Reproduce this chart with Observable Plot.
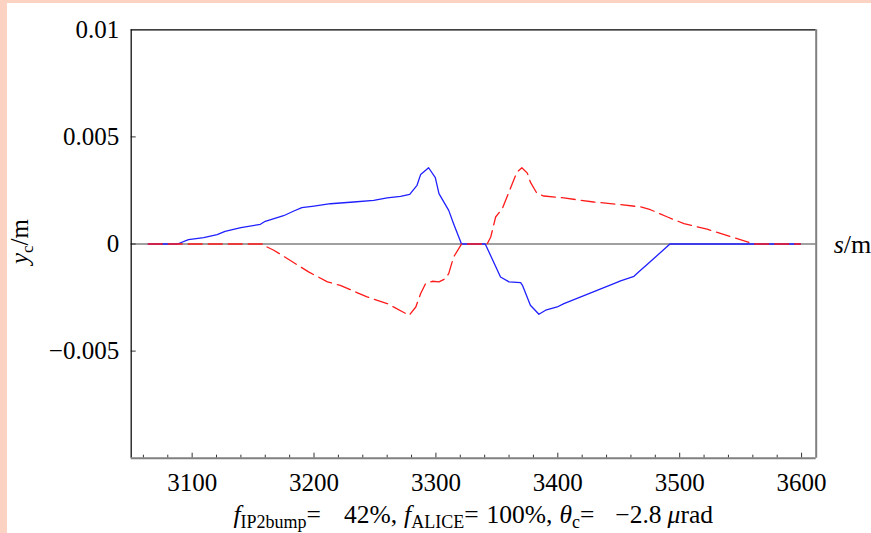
<!DOCTYPE html>
<html><head><meta charset="utf-8">
<script src="https://cdn.jsdelivr.net/npm/d3@7"></script>
<script src="https://cdn.jsdelivr.net/npm/@observablehq/plot@0.6"></script>
<style>
html,body{margin:0;padding:0;width:871px;height:533px;overflow:hidden;background:#fcd3c2;}
#panel{position:absolute;left:7px;top:3px;width:864px;height:530px;background:#fff;overflow:hidden;}
#panel svg{display:block;}
</style></head><body><div id="panel"></div>
<script>
const blueS = [3064,3088,3097,3109.5,3120.5,3127,3140,3156,3160,3175,3183,3190,3200,3213.5,3232.5,3249,3260,3271,3278.5,3284.5,3287.5,3294,3299.5,3302.5,3310.5,3314.5,3321,3340.5,3353,3360,3369.5,3371,3377.5,3384.5,3390,3399.5,3405,3424,3446,3451.5,3462.5,3466.5,3473.5,3492,3599];
const blueY = [0,0,0.0002,0.0003,0.00044,0.00059,0.00076,0.00092,0.00106,0.00132,0.00153,0.0017,0.00177,0.00188,0.00196,0.00204,0.00215,0.00222,0.00232,0.00274,0.00325,0.00356,0.0031,0.00235,0.00157,0.00095,0,0,-0.00154,-0.00177,-0.0018,-0.00193,-0.00286,-0.00328,-0.00309,-0.00294,-0.00278,-0.00235,-0.00185,-0.00172,-0.00151,-0.0013,-0.00095,0,0];
const redS = [3064,3159,3161.5,3167,3189,3195.5,3211,3221.5,3243.5,3260,3278,3283.5,3287.5,3291.5,3297,3302.5,3308,3310.5,3314.5,3321,3342,3345,3349,3354.5,3361,3366.5,3370.5,3375,3377.5,3383,3388.5,3405,3429.5,3451.5,3468,3476,3490,3503.5,3522.5,3561,3599];
const redY = [0,0,-0.00014,-0.00029,-0.00107,-0.0013,-0.00177,-0.00193,-0.00247,-0.00278,-0.00333,-0.00294,-0.00231,-0.00185,-0.00174,-0.00177,-0.00161,-0.00138,-0.00061,0,0,0.00033,0.00126,0.00165,0.00258,0.00336,0.00356,0.00331,0.00289,0.00235,0.00224,0.00215,0.00196,0.00184,0.00173,0.0016,0.00126,0.00095,0.00069,0,0];
const xMajorTicks = [3100,3200,3300,3400,3500,3600];
const xMinorTicks = [3060,3080,3120,3140,3160,3180,3220,3240,3260,3280,3320,3340,3360,3380,3420,3440,3460,3480,3520,3540,3560,3580];
const yLabelTicks = [0.01,0.005,0,-0.005];
const yMarkTicks = [0.005,0,-0.005];
const xDomain = [3050,3612];
const yDomain = [-0.01,0.01];

const blue = blueS.map((s,i)=>({s, y: blueY[i]}));
const red = redS.map((s,i)=>({s, y: redY[i]}));

const SERIF = "'Liberation Serif','Times New Roman',serif";
const W = 864, H = 530;
const mL = 123.7, mR = 55.3, mT = 26.3, mB = 75.3;
const innerW = W - mL - mR, innerH = H - mT - mB;
const fmtY = d => d === 0 ? "0" : (d < 0 ? "\u2212" : "") + Math.abs(d);

const plot = Plot.plot({
  width: W, height: H,
  marginLeft: mL, marginRight: mR, marginTop: mT, marginBottom: mB,
  style: {fontFamily: SERIF, fontSize: "25px", background: "transparent", color: "#000"},
  x: {domain: xDomain},
  y: {domain: yDomain},
  marks: [
    Plot.ruleY([0], {stroke: "#808080", strokeWidth: 1.7}),
    Plot.line(blue, {x: "s", y: "y", stroke: "#1f1fff", strokeWidth: 1.3}),
    Plot.line(red, {x: "s", y: "y", stroke: "#ff1a1a", strokeWidth: 1.3, strokeDasharray: "14,6"}),
    Plot.ruleX(xMajorTicks, {stroke: "#333", strokeWidth: 1, insetTop: innerH - 5}),
    Plot.ruleX(xMinorTicks, {stroke: "#333", strokeWidth: 1, insetTop: innerH - 3}),
    Plot.ruleY(yMarkTicks, {stroke: "#333", strokeWidth: 1, insetRight: innerW - 5}),
    Plot.ruleY([yDomain[1]], {stroke: "#000", strokeWidth: 1.3}),
    Plot.ruleX([xDomain[0]], {stroke: "#111", strokeWidth: 1.3}),
    Plot.ruleX([xDomain[1]], {stroke: "#808080", strokeWidth: 2}),
    Plot.ruleY([yDomain[0]], {stroke: "#808080", strokeWidth: 2}),
    Plot.axisX({ticks: xMajorTicks, tickSize: 0, tickPadding: 15, tickFormat: d => String(d), label: null, fontSize: 25, fontFamily: SERIF}),
    Plot.axisY({ticks: yLabelTicks, tickSize: 0, tickPadding: 12, tickFormat: fmtY, label: null, fontSize: 25, fontFamily: SERIF})
  ]
});
document.getElementById("panel").appendChild(plot);

const svg = d3.select(plot);
const xs = plot.scale("x"), ys = plot.scale("y");
const fx0 = xs.apply(xDomain[0]), fx1 = xs.apply(xDomain[1]);
const y0 = ys.apply(0);

// y axis label
const yl = svg.append("text")
  .attr("transform", `translate(${21},${y0 - 2}) rotate(-90)`)
  .attr("text-anchor", "middle")
  .attr("font-family", SERIF)
  .attr("font-size", 25);
yl.append("tspan").attr("font-style", "italic").text("y");
yl.append("tspan").attr("font-size", 17).attr("dy", 5).text("c");
yl.append("tspan").attr("dy", -5).text("/m");

// x axis label
const xl = svg.append("text")
  .attr("x", fx1 + 18).attr("y", y0 + 9)
  .attr("text-anchor", "start")
  .attr("font-family", SERIF)
  .attr("font-size", 26);
xl.append("tspan").attr("font-style", "italic").text("s");
xl.append("tspan").text("/m");

// caption
const cap = svg.append("text")
  .attr("x", (fx0 + fx1) / 2).attr("y", 520)
  .attr("text-anchor", "middle")
  .attr("font-family", SERIF)
  .attr("font-size", 25.5);
const parts = [
  ["f", {italic: true}],
  ["IP2bump", {sub: true}],
  ["=", {unsub: true}],
  ["42%,", {dx: 23}],
  ["f", {italic: true, dx: 7}],
  ["ALICE", {sub: true}],
  ["=", {unsub: true}],
  ["100%,", {dx: 8}],
  ["\u03b8", {italic: true, dx: 7}],
  ["c", {sub: true}],
  ["=", {unsub: true}],
  ["\u22122.8", {dx: 21}],
  ["\u03bc", {italic: true, dx: 6}],
  ["rad", {}]
];
for (const [t, o] of parts) {
  const ts = cap.append("tspan").text(t);
  if (o.italic) ts.attr("font-style", "italic");
  if (o.sub) ts.attr("font-size", 18).attr("dy", 5);
  if (o.unsub) ts.attr("dy", -5);
  if (o.dx) ts.attr("dx", o.dx);
}
</script>
</body></html>
